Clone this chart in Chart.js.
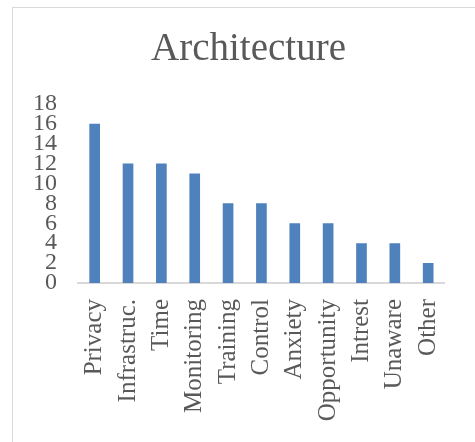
<!DOCTYPE html>
<html>
<head>
<meta charset="utf-8">
<script src="https://cdn.jsdelivr.net/npm/chart.js@4/dist/chart.umd.min.js"></script>
<style>
html,body{margin:0;padding:0;background:#fff;overflow:hidden;}
#wrap{position:relative;width:475px;height:442px;}
#frame{position:absolute;left:12px;top:7px;width:520px;height:520px;border:1.5px solid #d9d9d9;box-sizing:border-box;}
#c{position:absolute;left:0;top:0;}
</style>
</head>
<body>
<div id="wrap">
<div id="frame"></div>
<canvas id="c" width="475" height="442"></canvas>
</div>
<script>
const categories = ["Privacy","Infrastruc.","Time","Monitoring","Training","Control","Anxiety","Opportunity","Intrest","Unaware","Other"];
const values = [16,12,12,11,8,8,6,6,4,4,2];
const yTicks = [0,2,4,6,8,10,12,14,16,18];
const titleText = "Architecture";

const FONT = "'Liberation Serif', 'DejaVu Serif', serif";
const TXT = "#595959";

const shiftTitle = {
  id: 'shiftTitle',
  afterLayout(chart) {
    const t = chart.titleBlock;
    if (t) { t.left += 9; t.right += 9; }
  }
};

new Chart(document.getElementById('c'), {
  type: 'bar',
  data: {
    labels: categories,
    datasets: [{
      data: values,
      backgroundColor: '#4f81bd',
      borderWidth: 0,
      categoryPercentage: 1,
      barPercentage: 0.32
    }]
  },
  plugins: [shiftTitle],
  options: {
    responsive: false,
    animation: false,
    layout: { padding: { left: 22, right: 18, top: 0, bottom: 0 } },
    plugins: {
      legend: { display: false },
      tooltip: { enabled: false },
      title: {
        display: true,
        text: titleText,
        color: TXT,
        font: { family: FONT, size: 39, weight: 'normal' },
        padding: { top: 26, bottom: 31 }
      }
    },
    scales: {
      x: {
        grid: { display: false, drawTicks: false },
        border: { display: true, color: '#d9d9d9', width: 2 },
        ticks: {
          color: TXT,
          font: { family: FONT, size: 25 },
          minRotation: 90, maxRotation: 90,
          autoSkip: false,
          padding: 16
        },
        afterFit: (s) => { s.height = 159; }
      },
      y: {
        min: 0, max: 18,
        grid: { display: false, drawTicks: false },
        border: { display: false },
        afterBuildTicks: (s) => { s.ticks = yTicks.map(v => ({ value: v })); },
        ticks: {
          color: TXT,
          font: { family: FONT, size: 24 },
          autoSkip: false,
          padding: 21
        },
        afterFit: (s) => { s.width = 56; }
      }
    }
  }
});
</script>
</body>
</html>
